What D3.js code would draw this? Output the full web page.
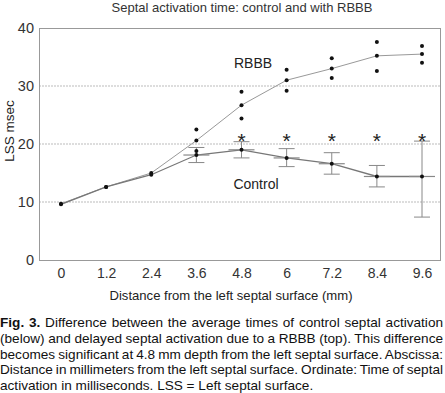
<!DOCTYPE html>
<html><head><meta charset="utf-8">
<script src="https://cdn.jsdelivr.net/npm/d3@7"></script>
<style>
html,body{margin:0;padding:0;background:#fff;}
svg{display:block;font-family:"Liberation Sans",Arial,sans-serif;}
</style></head>
<body>
<svg id="c" width="445" height="393"></svg>
<script>
const categories = ["0","1.2","2.4","3.6","4.8","6","7.2","8.4","9.6"];
const rbbbMean  = [9.7, 12.6, 15.0, 20.6, 26.7, 31.0, 33.0, 35.2, 35.5];
const rbbbUpper = [null,null,null,22.5,29.0,32.8,34.8,37.6,36.9];
const rbbbLower = [null,null,null,18.8,24.4,29.2,31.4,32.6,34.0];
const controlMean = [9.6, 12.6, 14.7, 18.1, 19.0, 17.6, 16.6, 14.4, 14.4];
const controlHigh = [null,null,null,19.4,20.4,19.2,18.5,16.3,20.5];
const controlLow  = [null,null,null,16.8,17.6,16.1,14.8,12.6,7.4];
const significant = [false,false,false,false,true,true,true,true,true];
const yTicks = [0,10,20,30,40];

const title = "Septal activation time: control and with RBBB";
const yTitle = "LSS msec";
const xTitle = "Distance from the left septal surface (mm)";
const captionLines = [
  [["Fig. 3.",true],[" Difference between the average times of control septal activation",false]],
  [["(below) and delayed septal activation due to a RBBB (top). This difference",false]],
  [["becomes significant at 4.8 mm depth from the left septal surface. Abscissa:",false]],
  [["Distance in millimeters from the left septal surface. Ordinate: Time of septal",false]],
  [["activation in milliseconds. LSS = Left septal surface.",false]]
];

const svg = d3.select("#c");
const box = {l:39, r:440, t:28, b:260};
const x = d3.scalePoint().domain(categories).range([61,422]);
const y = d3.scaleLinear().domain([0,40]).range([box.b, box.t]);

// title
svg.append("text").attr("x",242).attr("y",12).attr("text-anchor","middle")
  .attr("font-size",13).attr("fill","#333").text(title);

// grid
svg.append("g").selectAll("line").data(yTicks.filter(d=>d>0 && d<40)).join("line")
  .attr("x1",box.l).attr("x2",box.r).attr("y1",d=>y(d)).attr("y2",d=>y(d))
  .attr("stroke","#bbb").attr("stroke-dasharray","2,1").attr("stroke-width",1);

// box
svg.append("rect").attr("x",box.l+0.5).attr("y",box.t+0.5)
  .attr("width",box.r-box.l).attr("height",box.b-box.t)
  .attr("fill","none").attr("stroke","#999").attr("stroke-width",1);

// y axis
const ya = svg.append("g").attr("transform",`translate(${box.l},0)`)
  .call(d3.axisLeft(y).tickValues(yTicks).tickSize(0).tickPadding(5));
ya.select(".domain").remove();
ya.selectAll("text").attr("font-size",14.5).attr("fill","#333").attr("font-family","Liberation Sans, Arial, sans-serif");

// x axis
const xa = svg.append("g").attr("transform",`translate(0,${box.b})`)
  .call(d3.axisBottom(x).tickSize(0).tickPadding(8));
xa.select(".domain").remove();
xa.selectAll("text").attr("font-size",14).attr("fill","#333").attr("font-family","Liberation Sans, Arial, sans-serif");

// axis titles
svg.append("text").attr("x",231).attr("y",300).attr("text-anchor","middle")
  .attr("font-size",13.1).attr("fill","#222").text(xTitle);
svg.append("text").attr("transform","translate(14,131) rotate(-90)").attr("text-anchor","middle")
  .attr("font-size",13.5).attr("fill","#222").text(yTitle);

const idx = d3.range(categories.length);
const line = arr => d3.line().x(i=>x(categories[i])).y(i=>y(arr[i]));

// RBBB line
svg.append("path").attr("d",line(rbbbMean)(idx)).attr("fill","none")
  .attr("stroke","#999").attr("stroke-width",1);
// Control line
svg.append("path").attr("d",line(controlMean)(idx)).attr("fill","none")
  .attr("stroke","#777").attr("stroke-width",1.3);

// control error bars
const eb = idx.filter(i=>controlHigh[i]!=null);
const g = svg.append("g").attr("stroke","#888").attr("stroke-width",1);
g.selectAll(".v").data(eb).join("line").attr("x1",i=>x(categories[i])).attr("x2",i=>x(categories[i]))
  .attr("y1",i=>y(controlHigh[i])).attr("y2",i=>y(controlLow[i]));
g.selectAll(".ct").data(eb).join("line").attr("x1",i=>x(categories[i])-8).attr("x2",i=>x(categories[i])+8)
  .attr("y1",i=>y(controlHigh[i])).attr("y2",i=>y(controlHigh[i]));
g.selectAll(".cb").data(eb).join("line").attr("x1",i=>x(categories[i])-8).attr("x2",i=>x(categories[i])+8)
  .attr("y1",i=>y(controlLow[i])).attr("y2",i=>y(controlLow[i]));
g.selectAll(".cm").data(eb).join("line").attr("x1",i=>x(categories[i])-13).attr("x2",i=>x(categories[i])+13)
  .attr("y1",i=>y(controlMean[i])).attr("y2",i=>y(controlMean[i])).attr("stroke-width",1.2);

// points
const pts = [];
idx.forEach(i=>{
  pts.push([i,rbbbMean[i]]);
  pts.push([i,controlMean[i]]);
  if(rbbbUpper[i]!=null) pts.push([i,rbbbUpper[i]]);
  if(rbbbLower[i]!=null) pts.push([i,rbbbLower[i]]);
});
svg.append("g").selectAll("circle").data(pts).join("circle")
  .attr("cx",d=>x(categories[d[0]])).attr("cy",d=>y(d[1])).attr("r",2).attr("fill","#111");

// asterisks
svg.append("g").selectAll("text").data(idx.filter(i=>significant[i])).join("text")
  .attr("x",i=>x(categories[i])).attr("y",148).attr("text-anchor","middle")
  .attr("font-size",21).attr("fill","#222").text("*");

// series labels
svg.append("text").attr("x",253).attr("y",68).attr("text-anchor","middle")
  .attr("font-size",14).attr("fill","#222").text("RBBB");
svg.append("text").attr("x",256).attr("y",189).attr("text-anchor","middle")
  .attr("font-size",14).attr("fill","#222").text("Control");

// caption
const cap = svg.append("g").attr("font-size",13.6).attr("fill","#111");
captionLines.forEach((ln,k)=>{
  const t = cap.append("text").attr("x",0).attr("y",327+k*15.8).attr("xml:space","preserve");
  ln.forEach(([s,b])=>t.append("tspan").attr("font-weight",b?"bold":"normal").text(s));
  if(k<captionLines.length-1){
    const full = ln.map(d=>d[0]).join("");
    const spaces = (full.match(/ /g)||[]).length;
    const w = t.node().getComputedTextLength();
    const ws = (443 - w)/spaces;
    t.attr("word-spacing",ws);
  }
});
</script>
</body></html>
